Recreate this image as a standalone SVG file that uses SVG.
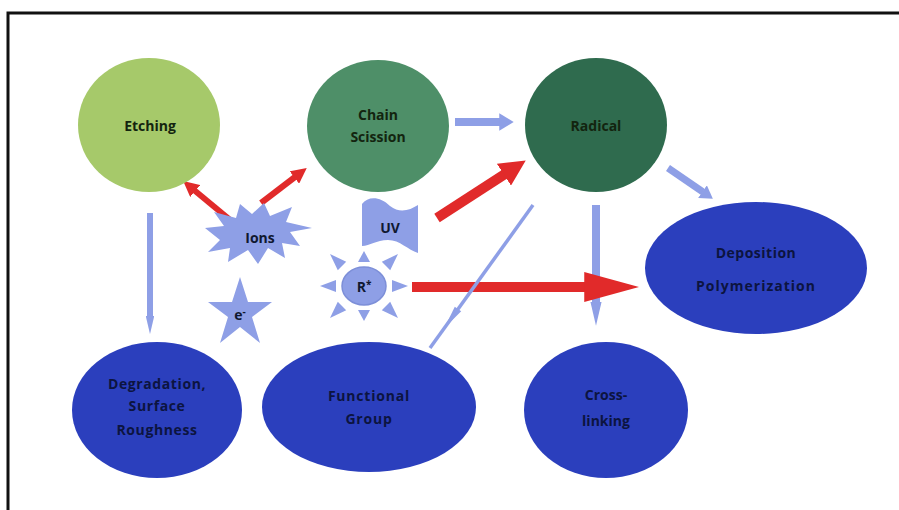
<svg xmlns="http://www.w3.org/2000/svg" width="899" height="510" viewBox="0 0 899 510">
<style>
.t{font-family:"Open Sans","DejaVu Sans",sans-serif;font-weight:700;font-size:14px;text-anchor:middle}
.g{fill:#13240f}
.b{fill:#0c1440}
.s{fill:#101830}
.blue{fill:#2b3fbd}
.lb{fill:#8e9fe6}
.red{stroke:#e12a2a;fill:none}
.bl{stroke:#8e9fe6;fill:none}
</style>
<defs>
<marker id="hr" viewBox="0 0 10 10" refX="0.5" refY="5" markerWidth="2.6" markerHeight="2.6" orient="auto" markerUnits="strokeWidth"><path d="M0,0 L10,5 L0,10 z" fill="#e12a2a"/></marker>
<marker id="hr2" viewBox="0 0 10 10" refX="0.5" refY="5" markerWidth="5.5" markerHeight="3" orient="auto" markerUnits="strokeWidth" preserveAspectRatio="none"><path d="M0,0 L10,5 L0,10 z" fill="#e12a2a"/></marker>
<marker id="hb" viewBox="0 0 10 10" refX="0.5" refY="5" markerWidth="1.8" markerHeight="2.2" orient="auto" markerUnits="strokeWidth" preserveAspectRatio="none"><path d="M0,0 L10,5 L0,10 z" fill="#8e9fe6"/></marker>
<marker id="hbn" viewBox="0 0 10 10" refX="0.5" refY="5" markerWidth="3" markerHeight="1.4" orient="auto" markerUnits="strokeWidth" preserveAspectRatio="none"><path d="M0,0 L10,5 L0,10 z" fill="#8e9fe6"/></marker>
</defs>
<rect width="899" height="510" fill="#ffffff"/>
<path d="M8,510 L8,13 L899,13" fill="none" stroke="#111" stroke-width="3"/>

<g id="connectors">
<line class="bl" x1="455" y1="122" x2="500" y2="122" stroke-width="8" marker-end="url(#hb)"/>
<line class="bl" x1="668" y1="168" x2="703" y2="192" stroke-width="7" marker-end="url(#hb)"/>
<line class="bl" x1="596" y1="205" x2="596" y2="303" stroke-width="8" marker-end="url(#hbn)"/>
<line class="bl" x1="150" y1="213" x2="150" y2="317" stroke-width="6" marker-end="url(#hbn)"/>
<line class="red" x1="229" y1="219" x2="194.6" y2="190.5" stroke-width="6" marker-end="url(#hr)"/>
<line class="red" x1="261" y1="203" x2="295" y2="177" stroke-width="6" marker-end="url(#hr)"/>
<line class="red" x1="437" y1="218" x2="505" y2="174" stroke-width="10" marker-end="url(#hr)"/>
<line class="red" x1="412" y1="287" x2="587" y2="287" stroke-width="10" marker-end="url(#hr2)"/>
<line class="bl" x1="533" y1="205" x2="430" y2="348" stroke-width="3.5"/>
<polygon class="lb" points="461.2,311.3 454.8,306.7 444.4,328"/>
</g>

<g id="etching"><ellipse cx="149" cy="125" rx="71" ry="67" fill="#a6c96a"/><text class="t g" x="150" y="131" font-size="15">Etching</text></g>
<g id="chain-scission"><ellipse cx="378" cy="126" rx="71" ry="66" fill="#4e8f68"/><text class="t g" x="378" y="120" font-size="15">Chain</text><text class="t g" x="378" y="142" font-size="15">Scission</text></g>
<g id="radical"><ellipse cx="596" cy="125" rx="71" ry="67" fill="#2f6b4e"/><text class="t g" x="596" y="131" font-size="15">Radical</text></g>
<g id="deposition"><ellipse cx="756" cy="268" rx="111" ry="66" class="blue"/><text class="t b" x="756" y="258" font-size="15" letter-spacing="0.5">Deposition</text><text class="t b" x="756" y="291" font-size="15" letter-spacing="1">Polymerization</text></g>
<g id="cross-linking"><ellipse cx="606" cy="410" rx="82" ry="68" class="blue"/><text class="t b" x="606" y="400" font-size="15">Cross-</text><text class="t b" x="606" y="426" font-size="15">linking</text></g>
<g id="degradation"><ellipse cx="157" cy="410" rx="85" ry="68" class="blue"/><text class="t b" x="157" y="389" letter-spacing="0.6">Degradation,</text><text class="t b" x="157" y="411" letter-spacing="0.6">Surface</text><text class="t b" x="157" y="435" letter-spacing="0.6">Roughness</text></g>
<g id="functional-group"><ellipse cx="369" cy="407" rx="107" ry="65" class="blue"/><text class="t b" x="369" y="401" letter-spacing="0.8">Functional</text><text class="t b" x="369" y="424" letter-spacing="0.8">Group</text></g>

<g id="ions"><polygon class="lb" points="312,228 290,232 300,246 282,243 285,258 268,248 258,264 248,250 228,262 230,248 208,252 220,240 205,228 224,226 214,212 236,218 240,204 252,214 264,203 270,216 292,207 286,222"/><text class="t s" x="260" y="243">Ions</text></g>
<g id="uv"><path class="lb" d="M362,204 C368,196 380,196 390,206 C400,214 410,210 418,205 L418,253 C408,250 400,240 388,240 C376,240 370,246 362,246 Z"/><text class="t s" x="390" y="233">UV</text></g>
<g id="r-star"><ellipse cx="364" cy="286" rx="22" ry="19" class="lb" stroke="#7d8fd8" stroke-width="1.5"/>
<polygon class="lb" points="392,280 392,292 408,286"/>
<polygon class="lb" points="336,280 336,292 320,286"/>
<polygon class="lb" points="358,262 370,262 364,251"/>
<polygon class="lb" points="358,310 370,310 364,321"/>
<polygon class="lb" points="381.8,261.8 390.2,270.2 398,254"/>
<polygon class="lb" points="346.2,261.8 337.8,270.2 330,254"/>
<polygon class="lb" points="390.2,301.8 381.8,310.2 398,318"/>
<polygon class="lb" points="346.2,310.2 337.8,301.8 330,318"/>
<text class="t s" x="364" y="292">R<tspan font-size="10" dy="-4">*</tspan></text></g>
<g id="electron"><polygon class="lb" points="240,277 248,302 272,302 252,317 260,343 240,327 220,343 228,317 208,302 232,302"/><text class="t s" x="240" y="320">e<tspan font-size="10" dy="-5">-</tspan></text></g>
</svg>
